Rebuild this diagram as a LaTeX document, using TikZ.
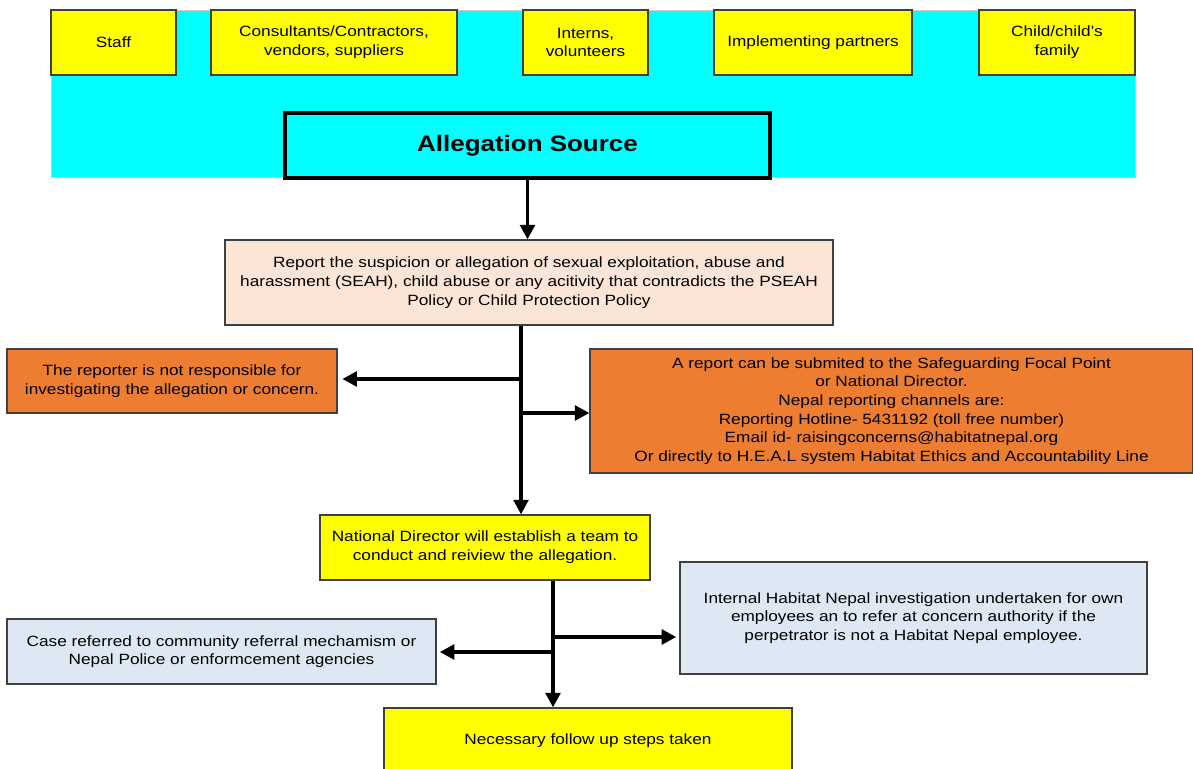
\documentclass[tikz,border=0pt]{standalone}
\usepackage{fontspec}
\setmainfont{Liberation Sans}[FakeStretch=1.16]
\usepackage{tikz}
\usetikzlibrary{arrows.meta}
\definecolor{boxyellow}{HTML}{FFFF00}
\definecolor{bandcyan}{HTML}{00FFFF}
\definecolor{peach}{HTML}{FBE5D6}
\definecolor{rustorange}{HTML}{ED7D31}
\definecolor{paleblue}{HTML}{DEE8F4}
\definecolor{edgegray}{HTML}{404040}
\tikzset{
  box/.style={draw=edgegray, line width=0.7pt, rectangle, inner sep=0pt, align=center,
    font=\fontsize{9.3}{11.7}\selectfont},
  src/.style={box, fill=boxyellow, minimum height=1.43cm},
  flow/.style={line width=2.4pt, -{Triangle[length=0.32cm,width=0.32cm]}}
}
\begin{document}
\begin{tikzpicture}[x=0.022cm, y=-0.022cm]
    \useasboundingbox (0,0) rectangle (1193,769);
    \fill[bandcyan] (51,10) rectangle (1135,177);
    \draw[gray!40, line width=0.6pt] (51,10) rectangle (1135,177);

    \node[src, minimum width=2.75cm]  (staff)   at (113.5,42.5) {Staff};
    \node[src, minimum width=5.412cm] (consult) at (334,42.5) {Consultants/Contractors,\\vendors, suppliers};
    \node[src, minimum width=2.75cm]  (interns) at (585.5,42.5) {Interns,\\volunteers};
    \node[src, minimum width=4.356cm] (partner) at (813,42.5) {Implementing partners};
    \node[src, minimum width=3.432cm] (child)   at (1057,42.5) {Child/child's\\family};

    \node[draw=black, line width=2.6pt, fill=bandcyan, minimum width=10.67cm, minimum height=1.43cm,
      font=\fontsize{14}{17}\selectfont\bfseries] (alleg) at (527.5,145.5) {Allegation Source};

    \node[box, fill=peach, minimum width=13.376cm, minimum height=1.87cm] (report) at (529,282.5)
      {Report the suspicion or allegation of sexual exploitation, abuse and\\harassment (SEAH), child abuse or any acitivity that contradicts the PSEAH\\Policy or Child Protection Policy};
    \node[box, fill=rustorange, minimum width=7.26cm, minimum height=1.408cm] (reporter) at (172,381)
      {The reporter is not responsible for\\investigating the allegation or concern.};
    \node[box, fill=rustorange, minimum width=13.266cm, minimum height=2.728cm] (submit) at (891.5,411)
      {A report can be submited to the Safeguarding Focal Point\\or National Director.\\Nepal reporting channels are:\\Reporting Hotline- 5431192 (toll free number)\\Email id- raisingconcerns@habitatnepal.org\\Or directly to H.E.A.L system Habitat Ethics and Accountability Line};
    \node[box, fill=boxyellow, minimum width=7.26cm, minimum height=1.43cm] (natdir) at (485,547.5)
      {National Director will establish a team to\\conduct and reiview the allegation.};
    \node[box, fill=paleblue, minimum width=9.438cm, minimum height=1.43cm] (caseref) at (221.5,651.5)
      {Case referred to community referral mechamism or\\Nepal Police or enformcement agencies};
    \node[box, fill=paleblue, minimum width=10.274cm, minimum height=2.464cm] (internal) at (913.5,618)
      {Internal Habitat Nepal investigation undertaken for own\\employees an to refer at concern authority if the\\perpetrator is not a Habitat Nepal employee.};
    \node[box, fill=boxyellow, minimum width=8.976cm, minimum height=1.452cm] (followup) at (588,741)
      {Necessary follow up steps taken};

    \coordinate (j1) at (521,379);
    \coordinate (j2) at (521,413);
    \coordinate (j3) at (553,637);
    \coordinate (j4) at (553,652);

    \draw[flow] (alleg.south) -- (alleg.south |- report.north);
    \draw[flow] (report.south -| j1) -- (natdir.north -| j1);
    \draw[flow] (j1) -- ([xshift=3pt]j1 -| reporter.east);
    \draw[flow] (j2) -- (j2 -| submit.west);
    \draw[flow] (natdir.south -| j3) -- (followup.north -| j3);
    \draw[flow] (j3) -- ([xshift=-2pt]j3 -| internal.west);
    \draw[flow] (j4) -- ([xshift=2pt]j4 -| caseref.east);
\end{tikzpicture}
\end{document}
